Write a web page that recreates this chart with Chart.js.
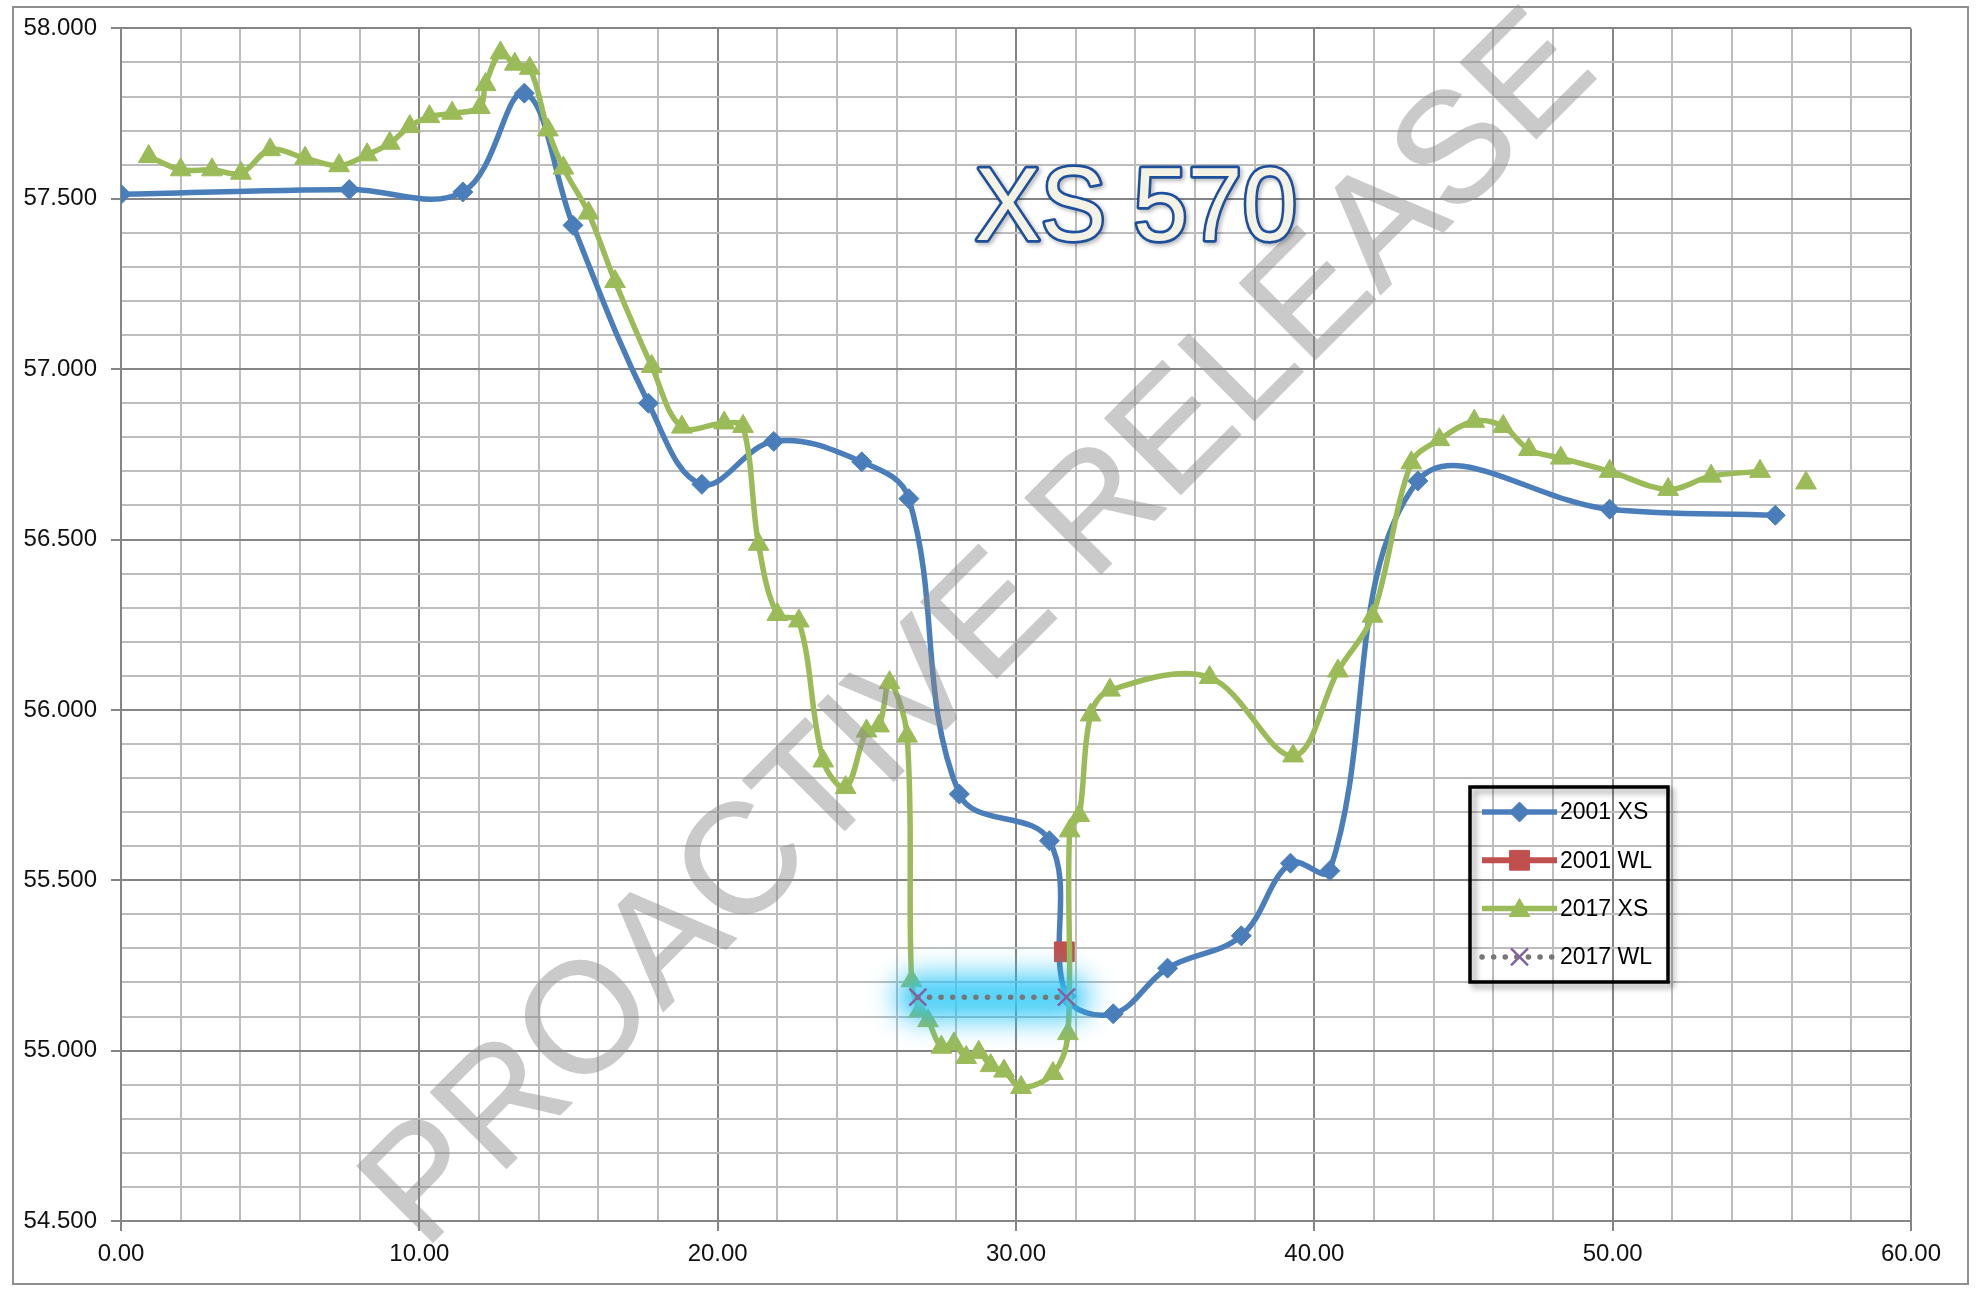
<!DOCTYPE html>
<html>
<head>
<meta charset="utf-8">
<title>XS 570</title>
<script src="https://cdn.jsdelivr.net/npm/chart.js@4.4.1/dist/chart.umd.min.js"></script>
<style>
    html, body { margin: 0; padding: 0; background: #ffffff; }
    #frame
    {
        position: absolute; left: 12px; top: 6px;
        width: 1953px; height: 1275px;
        border: 2px solid #8f8f8f;
    }
    #xs_chart { position: absolute; left: 0; top: 0; }
</style>
</head>
<body>
<div id="frame"></div>
<canvas id="xs_chart" width="1982" height="1299"></canvas>
<script>
// chainage (m) / level (m)
const xs_2001_x = [0.00, 7.65, 11.46, 13.52, 15.15, 17.68, 19.47, 21.88, 24.83, 26.41, 28.10, 31.12, 31.68, 33.26, 35.08, 37.55, 39.20, 40.52, 43.47, 49.90, 55.45];
const xs_2001_y = [57.513, 57.527, 57.520, 57.810, 57.422, 56.900, 56.662, 56.788, 56.728, 56.620, 55.753, 55.616, 55.160, 55.108, 55.242, 55.337, 55.550, 55.528, 56.672, 56.589, 56.571];

const wl_2001_x = [31.62];
const wl_2001_y = [55.290];

const xs_2017_x = [0.93, 2.00, 3.05, 4.02, 5.00, 6.17, 7.31, 8.25, 9.01, 9.68, 10.34, 11.10, 12.03, 12.22, 12.72, 13.20, 13.70, 14.31, 14.83, 15.67, 16.56, 17.79, 18.80, 20.22, 20.85, 21.37, 22.00, 22.72, 23.54, 24.29, 24.99, 25.41, 25.76, 26.35, 26.50, 26.76, 27.05, 27.50, 27.92, 28.33, 28.75, 29.15, 29.60, 30.17, 31.24, 31.74, 31.80, 32.12, 32.50, 33.15, 36.49, 39.29, 40.79, 41.95, 43.25, 44.19, 45.36, 46.33, 47.19, 48.26, 49.90, 51.86, 53.30, 54.94, 55.70, 56.48];
const xs_2017_y = [57.624, 57.585, 57.585, 57.575, 57.644, 57.619, 57.597, 57.629, 57.663, 57.712, 57.741, 57.751, 57.768, 57.835, 57.928, 57.895, 57.883, 57.702, 57.590, 57.458, 57.257, 57.008, 56.830, 56.842, 56.832, 56.486, 56.280, 56.261, 55.850, 55.772, 55.938, 55.953, 56.080, 55.923, 55.205, 55.117, 55.088, 55.010, 55.020, 54.980, 54.995, 54.956, 54.940, 54.892, 54.933, 55.050, 55.645, 55.690, 55.985, 56.058, 56.095, 55.865, 56.114, 56.275, 56.725, 56.793, 56.847, 56.832, 56.764, 56.739, 56.700, 56.647, 56.686, 56.700, null, 56.666];

const wl_2017_x = [26.71, 31.69];
const wl_2017_y = [55.157, 55.157];

const series_names = ['2001 XS', '2001 WL', '2017 XS', '2017 WL'];
const chart_title = 'XS 570';
const watermark_text = 'PROACTIVE RELEASE';

const y_min = 54.5, y_max = 58.0, y_step = 0.1, y_major = 0.5;
const x_min = 0, x_max = 60, x_step = 2, x_major = 10;

const major_grid = '#858585';
const minor_grid = '#bdbdbd';
const blue = '#4a7ebb';
const red = '#c0504d';
const green = '#9bbb59';
const purple = '#8064a2';
const dot_grey = '#777777';

Chart.defaults.font.family = '"Liberation Sans", Arial, sans-serif';
Chart.defaults.font.size = 24;
Chart.defaults.color = '#111111';

function to_points(xs, ys)
{
    return xs.map((x, i) => ({ x: x, y: ys[i] }));
}

function is_major(value, every)
{
    const r = value / every;
    return Math.abs(r - Math.round(r)) < 1e-6;
}

function marker_path(ctx, style, x, y, r)
{
    ctx.beginPath();
    if (style === 'rectRot')
    {
        ctx.moveTo(x - r, y); ctx.lineTo(x, y - r); ctx.lineTo(x + r, y); ctx.lineTo(x, y + r);
        ctx.closePath();
    }
    else if (style === 'rect')
    {
        const s = r * Math.SQRT1_2;
        ctx.rect(x - s, y - s, 2 * s, 2 * s);
    }
    else if (style === 'triangle')
    {
        ctx.moveTo(x, y - r);
        ctx.lineTo(x + 0.866 * r, y + 0.5 * r);
        ctx.lineTo(x - 0.866 * r, y + 0.5 * r);
        ctx.closePath();
    }
    else if (style === 'crossRot')
    {
        const d = r * Math.SQRT1_2;
        ctx.moveTo(x - d, y - d); ctx.lineTo(x + d, y + d);
        ctx.moveTo(x + d, y - d); ctx.lineTo(x - d, y + d);
    }
}

// cyan glow behind the 2017 water level, like the Excel glow effect
const glow_plugin =
{
    id: 'wl_glow',
    beforeDatasetDraw(chart, args)
    {
        if (args.index !== 3) return;
        const pts = args.meta.data;
        const ctx = chart.ctx;
        ctx.save();
        ctx.filter = 'blur(14px)';
        ctx.strokeStyle = 'rgba(20, 190, 245, 0.75)';
        ctx.lineWidth = 46;
        ctx.lineCap = 'round';
        ctx.beginPath();
        ctx.moveTo(pts[0].x, pts[0].y);
        ctx.lineTo(pts[pts.length - 1].x, pts[pts.length - 1].y);
        ctx.stroke();
        ctx.filter = 'blur(6px)';
        ctx.strokeStyle = 'rgba(90, 215, 250, 0.55)';
        ctx.lineWidth = 22;
        ctx.stroke();
        ctx.restore();
    }
};

// watermark is painted opaque off screen, then laid over the plot with alpha
const watermark_plugin =
{
    id: 'watermark',
    afterDatasetsDraw(chart)
    {
        const off = document.createElement('canvas');
        off.width = chart.width;
        off.height = chart.height;
        const oc = off.getContext('2d');
        oc.translate(982, 632);
        oc.rotate(-45 * Math.PI / 180);
        oc.font = '156px "Liberation Sans", Arial, sans-serif';
        oc.fillStyle = '#8a8a8a';
        oc.strokeStyle = '#8a8a8a';
        oc.lineWidth = 1.5;
        oc.lineJoin = 'round';
        oc.textAlign = 'center';
        oc.textBaseline = 'middle';
        oc.fillText(watermark_text, 0, 0);
        oc.strokeText(watermark_text, 0, 0);

        const ctx = chart.ctx;
        ctx.save();
        ctx.globalAlpha = 0.45;
        ctx.drawImage(off, 0, 0);
        ctx.restore();
    }
};

const title_plugin =
{
    id: 'xs_title',
    afterDraw(chart)
    {
        const ctx = chart.ctx;
        ctx.save();
        ctx.font = '104px "Liberation Sans", Arial, sans-serif';
        const w = ctx.measureText(chart_title).width;
        ctx.translate(1136, 240);
        ctx.scale(322 / w, 1);
        ctx.textAlign = 'center';
        ctx.textBaseline = 'alphabetic';
        ctx.lineJoin = 'round';
        ctx.shadowColor = 'rgba(0, 0, 0, 0.3)';
        ctx.shadowBlur = 4;
        ctx.shadowOffsetX = 2;
        ctx.shadowOffsetY = 2;
        ctx.lineWidth = 5.5;
        ctx.strokeStyle = '#1d4f9c';
        ctx.strokeText(chart_title, 0, 0);
        ctx.shadowColor = 'rgba(0, 0, 0, 0)';
        ctx.fillStyle = '#f4f1e5';
        ctx.fillText(chart_title, 0, 0);
        ctx.restore();
    }
};

// legend box drawn inside the plot, as in the original
const legend_plugin =
{
    id: 'box_legend',
    afterDraw(chart)
    {
        const ctx = chart.ctx;
        const box = { left: 1470, top: 787, width: 198, height: 195 };
        ctx.save();
        ctx.shadowColor = 'rgba(0, 0, 0, 0.4)';
        ctx.shadowBlur = 6;
        ctx.shadowOffsetX = 4;
        ctx.shadowOffsetY = 4;
        ctx.lineWidth = 3.5;
        ctx.strokeStyle = '#000000';
        ctx.strokeRect(box.left, box.top, box.width, box.height);
        ctx.restore();

        const order = [0, 1, 2, 3];
        order.forEach((di, row) =>
        {
            const ds = chart.data.datasets[di];
            const y = box.top + 25 + row * 48.3;
            const x0 = box.left + 12, x1 = box.left + 87, xm = (x0 + x1) / 2;
            ctx.save();
            ctx.strokeStyle = ds.borderColor;
            ctx.lineWidth = ds.borderWidth;
            ctx.lineCap = ds.borderCapStyle || 'butt';
            ctx.setLineDash(ds.borderDash || []);
            ctx.beginPath();
            ctx.moveTo(x0, y);
            ctx.lineTo(x1, y);
            ctx.stroke();
            ctx.setLineDash([]);
            marker_path(ctx, ds.pointStyle, xm, y + (ds.pointStyle === 'triangle' ? 2 : 0), ds.pointRadius);
            if (ds.pointStyle !== 'crossRot')
            {
                ctx.fillStyle = ds.pointBackgroundColor;
                ctx.fill();
            }
            ctx.strokeStyle = ds.pointBorderColor;
            ctx.lineWidth = ds.pointBorderWidth;
            ctx.lineCap = 'butt';
            ctx.stroke();
            ctx.fillStyle = '#000000';
            ctx.font = '23px "Liberation Sans", Arial, sans-serif';
            ctx.textAlign = 'left';
            ctx.textBaseline = 'middle';
            ctx.fillText(series_names[di], box.left + 90, y + 1);
            ctx.restore();
        });
    }
};

const data =
{
    datasets:
        [{
            label: series_names[0],
            data: to_points(xs_2001_x, xs_2001_y),
            borderColor: blue,
            backgroundColor: blue,
            borderWidth: 5.5,
            tension: 0.38,
            pointStyle: 'rectRot',
            pointRadius: 10,
            pointBackgroundColor: blue,
            pointBorderColor: blue,
            pointBorderWidth: 1,
            order: 3
        },
        {
            label: series_names[1],
            data: to_points(wl_2001_x, wl_2001_y),
            borderColor: red,
            backgroundColor: red,
            borderWidth: 6,
            pointStyle: 'rect',
            pointRadius: 14,
            pointBackgroundColor: red,
            pointBorderColor: red,
            pointBorderWidth: 1,
            order: 2
        },
        {
            label: series_names[2],
            data: to_points(xs_2017_x, xs_2017_y),
            borderColor: green,
            backgroundColor: green,
            borderWidth: 5.5,
            tension: 0.35,
            pointStyle: 'triangle',
            pointRadius: 12,
            pointBackgroundColor: green,
            pointBorderColor: green,
            pointBorderWidth: 1,
            order: 1
        },
        {
            label: series_names[3],
            data: to_points(wl_2017_x, wl_2017_y),
            borderColor: dot_grey,
            backgroundColor: dot_grey,
            borderWidth: 5.5,
            borderDash: [0.1, 11.5],
            borderCapStyle: 'round',
            pointStyle: 'crossRot',
            pointRadius: 12,
            pointBackgroundColor: purple,
            pointBorderColor: purple,
            pointBorderWidth: 2.5,
            order: 0
        }]
};

const config =
{
    type: 'line',
    data,
    options:
    {
        responsive: false,
        animation: false,
        events: [],
        layout:
        {
            padding: { left: 14, top: 27, right: 71, bottom: 16 }
        },
        plugins:
        {
            legend: { display: false },
            tooltip: { enabled: false }
        },
        scales:
        {
            x:
            {
                type: 'linear',
                min: x_min,
                max: x_max,
                ticks:
                {
                    stepSize: x_step,
                    autoSkip: false,
                    maxRotation: 0,
                    padding: 9,
                    callback: (v) => is_major(v, x_major) ? v.toFixed(2) : ''
                },
                grid:
                {
                    lineWidth: 2,
                    tickLength: 10,
                    color: (c) => is_major(c.tick.value, x_major) ? major_grid : minor_grid,
                    tickColor: (c) => is_major(c.tick.value, x_major) ? major_grid : 'rgba(0,0,0,0)'
                },
                border: { color: major_grid, width: 2 },
                afterFit: (s) => { s.height = 62; }
            },
            y:
            {
                type: 'linear',
                min: y_min,
                max: y_max,
                ticks:
                {
                    stepSize: y_step,
                    autoSkip: false,
                    padding: 14,
                    callback: (v) => is_major(v, y_major) ? v.toFixed(3) : ''
                },
                grid:
                {
                    lineWidth: 2,
                    tickLength: 10,
                    color: (c) => is_major(c.tick.value, y_major) ? major_grid : minor_grid,
                    tickColor: (c) => is_major(c.tick.value, y_major) ? major_grid : 'rgba(0,0,0,0)'
                },
                border: { color: major_grid, width: 2 },
                afterFit: (s) => { s.width = 107; }
            }
        }
    },
    plugins: [glow_plugin, watermark_plugin, title_plugin, legend_plugin]
};

const xs_chart = new Chart(document.querySelector('#xs_chart'), config);
</script>
</body>
</html>
